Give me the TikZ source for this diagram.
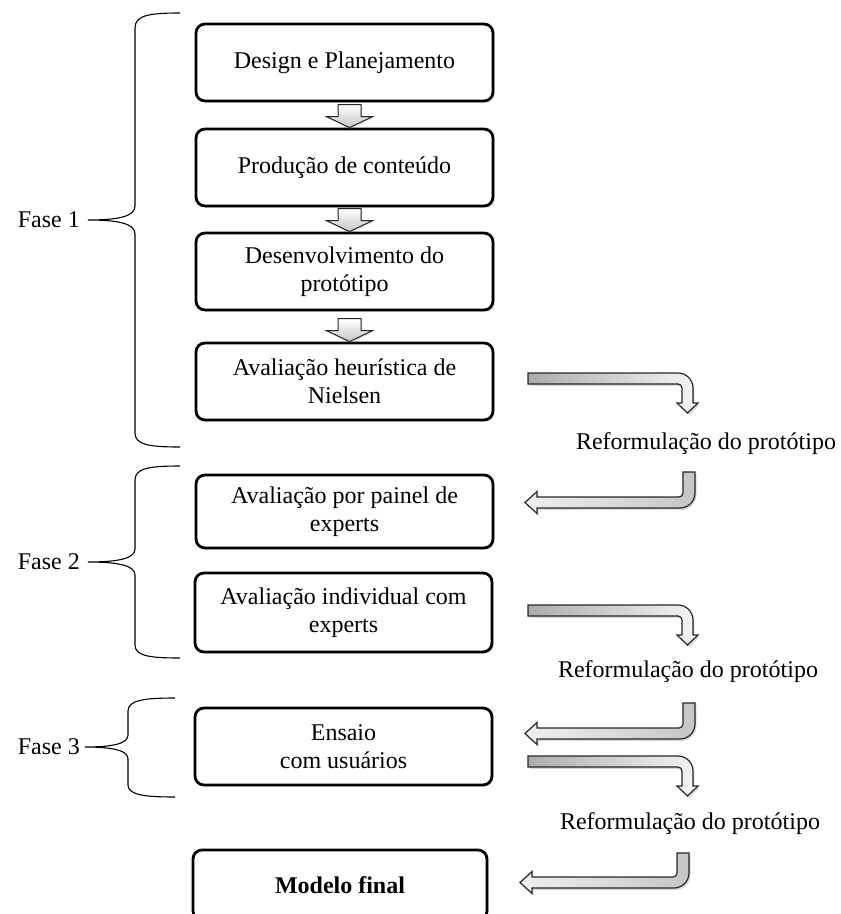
\documentclass[tikz,border=0pt]{standalone}
\usepackage{fontspec}
\setmainfont{Liberation Serif}
\usetikzlibrary{shadows,calc}
\begin{document}
\begin{tikzpicture}[x=1pt,y=-1pt,
  txt/.style={font=\fontsize{24}{27.5}\selectfont},
  box/.style={txt, draw, line width=2.8pt, rounded corners=9pt, fill=white,
    minimum width=297pt, minimum height=77pt, inner sep=0pt, align=center,
    drop shadow={opacity=0.3,shadow xshift=1.5pt,shadow yshift=-1.5pt}},
  smallarr/.style={draw=black!85, line width=1pt, top color=white, bottom color=gray!45,
    drop shadow={opacity=0.25,shadow xshift=1pt,shadow yshift=-1.5pt}},
  bigright/.style={draw=black!85, line width=1.2pt, left color=gray!65, right color=gray!8,
    drop shadow={opacity=0.3,shadow xshift=1.5pt,shadow yshift=-2pt}},
  bigleft/.style={draw=black!85, line width=1.2pt, left color=gray!12, right color=gray!45,
    drop shadow={opacity=0.3,shadow xshift=1.5pt,shadow yshift=-2pt}},
  brace/.style={draw, line width=1.1pt},
  lbl/.style={txt, inner sep=0pt}]
\useasboundingbox (0,0) rectangle (841,914);

% boxes
\node[box] (b1) at (344.5,62.5) {Design e Planejamento};
\node[box] (b2) at (344.5,167.5) {Produção de conteúdo};
\node[box] (b3) at (344.5,271.5) {Desenvolvimento do\\protótipo};
\node[box] (b4) at (344.5,381.5) {Avaliação heurística de\\Nielsen};
\node[box, minimum height=73pt] (b5) at (344.5,511.5) {Avaliação por painel de\\experts};
\node[box, minimum height=79pt] (b6) at (343.5,612.5) {Avaliação individual com\\experts};
\node[box] (b7) at (343.5,746.5) {Ensaio\\com usuários};
\node[box, minimum width=294pt, minimum height=70pt] (b8) at (340,885) {\bfseries Modelo final};

% small down arrows between boxes
\foreach \n in {b2,b3,b4}{
  \coordinate (T) at ($(\n.north)+(5,0)$);
  \path[smallarr] ($(T)+(-11.5,-23)$) -- ($(T)+(11.5,-23)$) -- ($(T)+(11.5,-11)$)
    -- ($(T)+(23,-11)$) -- (T) -- ($(T)+(-23,-11)$) -- ($(T)+(-11.5,-11)$) -- cycle;
}

% labels
\node[lbl] (r1) at (706,444) {Reformulação do protótipo};
\node[lbl] (r2) at (688,672) {Reformulação do protótipo};
\node[lbl] (r3) at (690,824) {Reformulação do protótipo};

% big right-then-down arrows
\foreach \y in {373,605,756}{
  \path[bigright] (528,\y) -- (678,\y) .. controls (686.3,\y) and (693,\y+6.7) .. (693,\y+15)
    -- (693,\y+30) -- (698,\y+30) -- (687.5,\y+40) -- (677,\y+30) -- (682,\y+30)
    -- (682,\y+15) .. controls (682,\y+12.8) and (680.2,\y+11) .. (678,\y+11)
    -- (528,\y+11) -- cycle;
}

% big down-then-left arrows
\foreach \T/\H/\X/\L in {472/497/695/525, 703/728/695/525, 853/877/689/520}{
  \path[bigleft] (\X-12,\T) -- (\X,\T) -- (\X,\H-4) .. controls (\X,\H+4.3) and (\X-6.7,\H+11) .. (\X-15,\H+11)
    -- (\L+12,\H+11) -- (\L+12,\H+16.5) -- (\L,\H+5.5) -- (\L+12,\H-5.5) -- (\L+12,\H)
    -- (\X-16,\H) .. controls (\X-13.8,\H) and (\X-12,\H-1.8) .. (\X-12,\H-4) -- cycle;
}

% braces
\path[brace] (180,13) .. controls (150,13) and (135,15) .. (135,28) -- (135,206)
  .. controls (135,216) and (120,220) .. (88,220)
  .. controls (120,220) and (135,224) .. (135,234) -- (135,433)
  .. controls (135,445) and (150,447) .. (180,447);
\path[brace] (180,466) .. controls (150,466) and (135,468) .. (135,480) -- (135,549)
  .. controls (135,558) and (120,562) .. (88,562)
  .. controls (120,562) and (135,566) .. (135,575) -- (135,645)
  .. controls (135,656) and (150,658) .. (180,658);
\path[brace] (175,698) .. controls (145,698) and (128,700) .. (128,711) -- (128,735)
  .. controls (128,743) and (115,747) .. (85,747)
  .. controls (115,747) and (128,751) .. (128,759) -- (128,785)
  .. controls (128,795) and (145,797) .. (175,797);

\node[lbl, anchor=east] (f1) at (80,220) {Fase 1};
\node[lbl, anchor=east] (f2) at (80,562) {Fase 2};
\node[lbl, anchor=east] (f3) at (80,747) {Fase 3};
\end{tikzpicture}
\end{document}
